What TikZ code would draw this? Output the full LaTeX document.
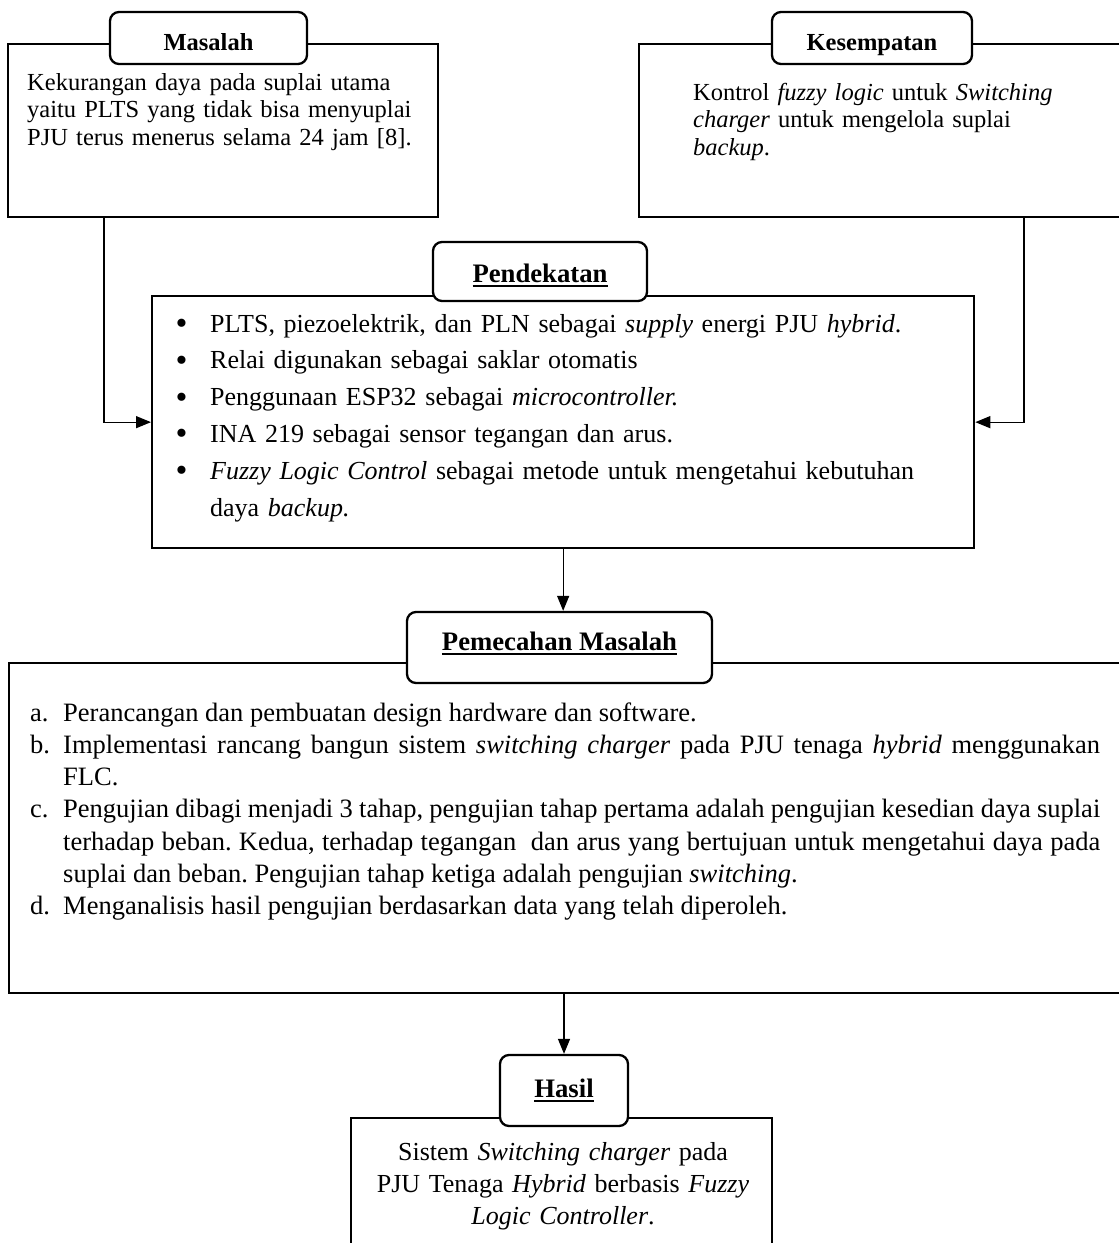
\documentclass[tikz,border=0pt]{standalone}
\usepackage{fontspec}
\setmainfont{Liberation Serif}
\frenchspacing
\usetikzlibrary{arrows.meta}
\tikzset{
  panel/.style={draw, line width=2.3pt, inner sep=0pt, anchor=north west},
  tab/.style={draw, line width=2.3pt, rounded corners=9pt, fill=white, inner sep=0pt,
    font=\fontsize{26.7}{28}\selectfont\bfseries},
  body/.style={inner sep=0pt, anchor=base west, align=left, font=\fontsize{24.5}{27.5}\selectfont},
  link/.style={line width=1.3pt, -{Triangle[length=15pt,width=12pt]}}
}
\newcommand{\titleline}[1]{\setbox0\hbox{#1}\rlap{\rule[-4.5pt]{\wd0}{2pt}}\box0}
\newcommand{\pdot}[1]{\hangindent=31pt\hangafter=1\noindent
  \makebox[31pt][l]{\hspace{-3.5pt}\raisebox{-2.5pt}{\fontsize{34}{34}\selectfont\textbullet}}#1\par}
\newcommand{\pstep}[2]{\hangindent=33pt\hangafter=1\noindent\makebox[33pt][l]{#1}#2\par}
\begin{document}
\begin{tikzpicture}[x=1pt,y=-1pt]
\useasboundingbox (0,0) rectangle (1119,1243);
\node[panel, minimum width=430, minimum height=173] (masalah) at (7,43) {};
\node[panel, minimum width=500, minimum height=173] (kesempatan) at (638,43) {};
\node[panel, minimum width=822, minimum height=252] (pendekatan) at (151,295) {};
\node[panel, minimum width=1130, minimum height=330] (pemecahan) at (8,662) {};
\node[panel, minimum width=421, minimum height=150] (hasil) at (350,1117) {};

\node[tab, font=\fontsize{24.5}{27}\selectfont\bfseries, text height=25pt, text depth=0pt,
  minimum width=197, minimum height=52] (masalahtab) at (208.5,38) {Masalah};
\node[tab, font=\fontsize{24.5}{27}\selectfont\bfseries, text height=25pt, text depth=0pt,
  minimum width=200, minimum height=52] (kesempatantab) at (872,38) {Kesempatan};
\node[tab, text height=21pt, text depth=0pt, minimum width=214, minimum height=59] (pendekatantab)
  at (540,271.5) {\titleline{Pendekatan}};
\node[tab, text height=18pt, text depth=13pt, minimum width=305, minimum height=71] (pemecahantab)
  at (559.5,647.5) {\titleline{Pemecahan Masalah}};
\node[tab, text height=18pt, text depth=5pt, minimum width=128, minimum height=71] (hasiltab)
  at (564,1090.5) {\titleline{Hasil}};

\node[body, text width=420] (masalahtxt) at (27,90) {Kekurangan daya pada suplai utama\\
  yaitu PLTS yang tidak bisa menyuplai\\ PJU terus menerus selama 24 jam [8].};
\node[body, text width=400] (kesempatantxt) at (693,100) {Kontrol \textit{fuzzy logic} untuk \textit{Switching}\\
  \textit{charger} untuk mengelola suplai\\ \textit{backup}.};
\node[body, text width=780, font=\fontsize{26}{36.8}\selectfont] (pendekatantxt) at (179,332) {%
  \pdot{PLTS, piezoelektrik, dan PLN sebagai \textit{supply} energi PJU \textit{hybrid}.}
  \pdot{Relai digunakan sebagai saklar otomatis}
  \pdot{Penggunaan ESP32 sebagai \textit{microcontroller.}}
  \pdot{INA 219 sebagai sensor tegangan dan arus.}
  \pdot{\textit{Fuzzy Logic Control} sebagai metode untuk mengetahui kebutuhan\newline daya \textit{backup.}}};
\node[body, text width=1070, align=justify, font=\fontsize{26.5}{32.3}\selectfont] (pemecahantxt) at (30,721) {%
  \pstep{a.}{Perancangan dan pembuatan design hardware dan software.}
  \pstep{b.}{Implementasi rancang bangun sistem \textit{switching charger} pada PJU tenaga \textit{hybrid} menggunakan\linebreak FLC.}
  \pstep{c.}{Pengujian dibagi menjadi 3 tahap, pengujian tahap pertama adalah pengujian kesedian daya suplai\linebreak
    terhadap beban. Kedua, terhadap tegangan\ \ dan arus yang bertujuan untuk mengetahui daya pada\linebreak
    suplai dan beban. Pengujian tahap ketiga adalah pengujian \textit{switching}.}
  \pstep{d.}{Menganalisis hasil pengujian berdasarkan data yang telah diperoleh.}};
\node[body, anchor=base, text width=420, align=center, font=\fontsize{26}{32}\selectfont] (hasiltxt) at (563,1160) {%
  Sistem \textit{Switching charger} pada\\ PJU Tenaga \textit{Hybrid} berbasis \textit{Fuzzy}\\ \textit{Logic Controller}.};

\draw[link] ([xshift=97pt]masalah.south west) |- (pendekatan.west);
\draw[link] ([xshift=386pt]kesempatan.south west) |- (pendekatan.east);
\draw[link] (pendekatan.south) -- (pendekatan.south |- pemecahantab.north);
\draw[link] (pemecahan.south -| hasiltab.north) -- (hasiltab.north);
\end{tikzpicture}
\end{document}
